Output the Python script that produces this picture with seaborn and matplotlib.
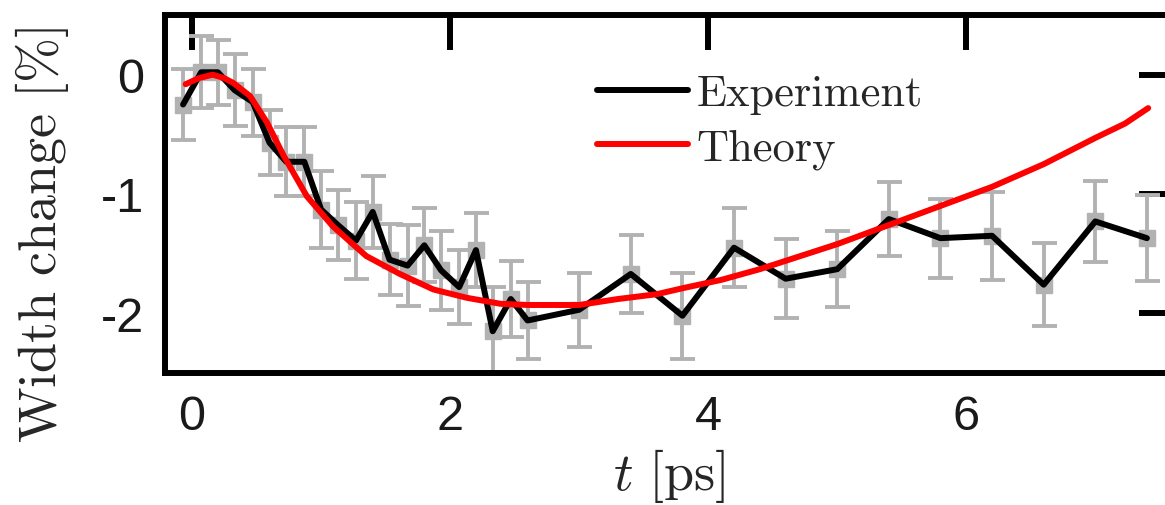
import numpy as np
import pandas as pd
import matplotlib
matplotlib.use("Agg")
import matplotlib.pyplot as plt
import seaborn as sns

# ---------------- data ----------------
exp_t = [-0.07, 0.07, 0.20, 0.33, 0.47, 0.60, 0.73, 0.87, 1.00, 1.13, 1.27,
         1.40, 1.53, 1.67, 1.80, 1.93, 2.07, 2.20, 2.33, 2.47, 2.60,
         3.0, 3.4, 3.8, 4.2, 4.6, 5.0, 5.4, 5.8, 6.2, 6.6, 7.0, 7.4]
exp_v = [-0.25, 0.02, 0.02, -0.13, -0.23, -0.57, -0.73, -0.73, -1.13, -1.26, -1.39,
         -1.15, -1.55, -1.60, -1.43, -1.64, -1.78, -1.47, -2.15, -1.88, -2.06,
         -1.97, -1.67, -2.02, -1.45, -1.71, -1.63, -1.21, -1.37, -1.35, -1.76, -1.23, -1.37]
exp_err = [0.30, 0.30, 0.27, 0.30, 0.28, 0.27, 0.29, 0.29, 0.32, 0.29, 0.32,
           0.30, 0.30, 0.34, 0.31, 0.33, 0.31, 0.31, 0.37, 0.32, 0.32,
           0.31, 0.33, 0.36, 0.33, 0.33, 0.32, 0.31, 0.33, 0.37, 0.35, 0.34, 0.36]

theo_t = [-0.05, 0.05, 0.16, 0.25, 0.32, 0.45, 0.58, 0.71, 0.80, 0.89, 1.09, 1.35,
          1.61, 1.87, 2.13, 2.39, 2.60, 2.80, 3.00, 3.30, 3.60, 3.80, 4.10, 4.40,
          4.60, 5.00, 5.40, 5.80, 6.20, 6.60, 7.00, 7.23, 7.41]
theo_v = [-0.08, -0.03, 0.00, -0.03, -0.07, -0.18, -0.40, -0.68, -0.85, -1.02, -1.27, -1.52,
          -1.67, -1.80, -1.87, -1.92, -1.93, -1.93, -1.93, -1.88, -1.84, -1.79, -1.72, -1.63,
          -1.56, -1.42, -1.26, -1.10, -0.94, -0.75, -0.53, -0.41, -0.28]

x_ticks = [0, 2, 4, 6]
y_ticks = [0, -1, -2]
legend_labels = ["Experiment", "Theory"]

exp_df = pd.DataFrame({"t": exp_t, "v": exp_v, "err": exp_err})
theo_df = pd.DataFrame({"t": theo_t, "v": theo_v})

# ---------------- style ----------------
sns.set_style("white")
plt.rcParams["font.family"] = ["Liberation Sans", "DejaVu Sans"]
plt.rcParams["mathtext.fontset"] = "cm"
plt.rcParams["axes.unicode_minus"] = False

fig = plt.figure(figsize=(11.65, 5.06), dpi=100)
ax = fig.add_axes([165 / 1165, 1 - 374 / 506, (1174 - 165) / 1165, (374 - 16) / 506])

grey = "#b2b2b2"
ax.errorbar(exp_df["t"], exp_df["v"], yerr=exp_df["err"], fmt="s", color=grey,
            ms=12, mec=grey, mfc=grey, elinewidth=2.8, capsize=9, capthick=2.8,
            zorder=1)

sns.lineplot(data=exp_df, x="t", y="v", color="black", lw=4.3, sort=False,
             estimator=None, ax=ax, label=legend_labels[0], legend=False, zorder=2)
sns.lineplot(data=theo_df, x="t", y="v", color="#ff0000", lw=4.3, sort=False,
             estimator=None, ax=ax, label=legend_labels[1], legend=False, zorder=3)

ax.set_xlim(-0.21, 7.61)
ax.set_ylim(-2.5, 0.5)
ax.set_xticks(x_ticks)
ax.set_yticks(y_ticks)
ax.set_xticklabels([str(v) for v in x_ticks])
ax.set_yticklabels([str(v) for v in y_ticks])

for s in ax.spines.values():
    s.set_visible(True)
    s.set_linewidth(4.3)
    s.set_color("black")

ax.tick_params(axis="both", which="major", direction="in", length=25, width=4.3,
               top=True, right=True, labelsize=35, colors="black")
ax.tick_params(axis="x", pad=15)
ax.tick_params(axis="y", pad=15)
for lab in ax.get_xticklabels() + ax.get_yticklabels():
    lab.set_color("#1a1a1a")

ax.set_xlabel(r"$t\ [\mathrm{ps}]$", fontsize=39, labelpad=5)
ax.set_ylabel(r"$\mathrm{Width\ change\ [\%]}$", fontsize=39, va="center")
ax.yaxis.set_label_coords(-0.122, 0.39)

handles = ax.get_lines()
hl = [h for h in handles if h.get_label() in legend_labels]
leg = ax.legend(handles=hl, labels=legend_labels, loc="upper left",
                bbox_to_anchor=(0.428, 0.835), frameon=False, fontsize=32,
                handlelength=2.05, handletextpad=0.2, labelspacing=0.32,
                borderpad=0, borderaxespad=0)
for txt in leg.get_texts():
    txt.set_fontfamily("cmr10")

fig.savefig("out.png", dpi=100)
